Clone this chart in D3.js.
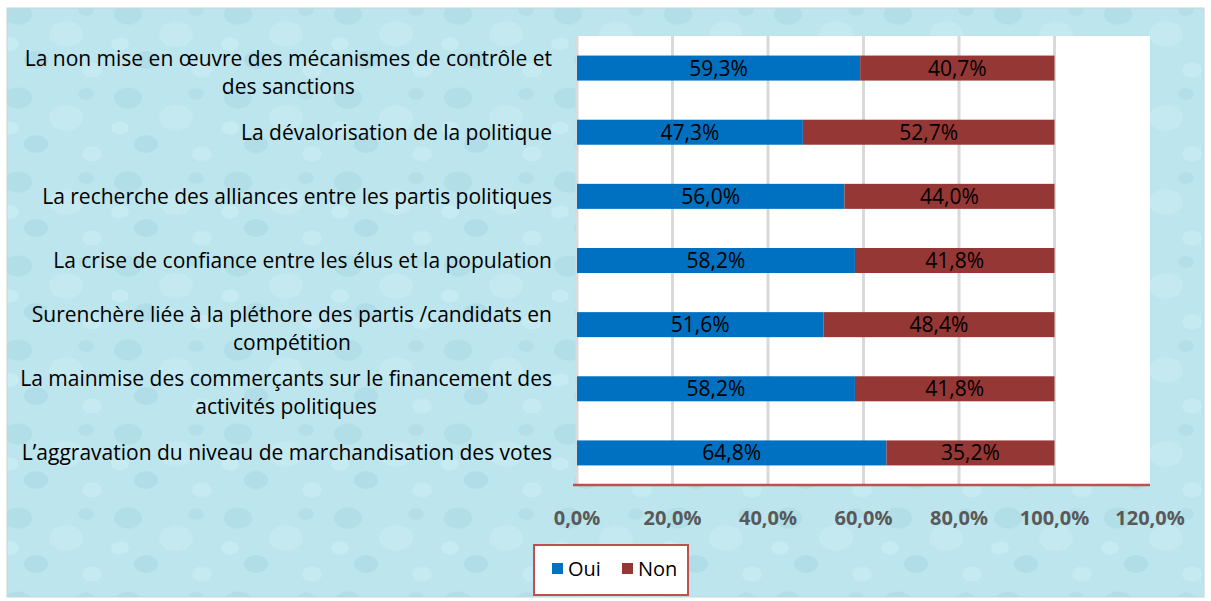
<!DOCTYPE html>
<html>
<head>
<meta charset="utf-8">
<script src="https://cdn.jsdelivr.net/npm/d3@7"></script>
<style>
  body { margin: 0; background: #fff; }
  svg { display: block; font-family: "Open Sans", Lato, sans-serif; }
</style>
</head>
<body>
<div id="graph"></div>
<script>
// categories, top to bottom
const categories = [
  "La non mise en œuvre des mécanismes de contrôle et|des sanctions",
  "La dévalorisation de la politique",
  "La recherche des alliances entre les partis politiques",
  "La crise de confiance entre les élus et la population",
  "Surenchère liée à la pléthore des partis /candidats en|compétition",
  "La mainmise des commerçants sur le financement des|activités politiques",
  "L’aggravation du niveau de marchandisation des votes"
]
const oui = [59.3, 47.3, 56.0, 58.2, 51.6, 58.2, 64.8]
const non = [40.7, 52.7, 44.0, 41.8, 48.4, 41.8, 35.2]
const xTicks = [0, 20, 40, 60, 80, 100, 120]
const seriesNames = ["Oui", "Non"]
const colors = ["#0070c0", "#953735"]

const W = 1211, H = 601
const plot = {left: 577, right: 1150, top: 36, bottom: 485}
const fmt = v => d3.format(".1f")(v).replace(".", ",") + "%"

const svg = d3.select("#graph").append("svg")
  .attr("width", W).attr("height", H)

// water drop texture (decorative)
const defs = svg.append("defs")
const pat = defs.append("pattern")
  .attr("id", "drops").attr("patternUnits", "userSpaceOnUse")
  .attr("width", 110).attr("height", 84)
pat.append("rect").attr("width", 110).attr("height", 84).attr("fill", "#bce5ed")
const blobs = [[18, 14, 14, "#aedce6"], [66, 34, 17, "#c8ecf2"], [36, 60, 12, "#acdbe5"],
               [92, 70, 10, "#c9edf3"], [86, 10, 8, "#b1dde7"], [10, 44, 9, "#cbeef4"]]
blobs.forEach(b => {
  pat.append("ellipse").attr("cx", b[0]).attr("cy", b[1])
    .attr("rx", b[2]).attr("ry", b[2] * 0.75).attr("fill", b[3]).attr("opacity", 0.7)
})

svg.append("rect")
  .attr("x", 7).attr("y", 8).attr("width", W - 14).attr("height", H - 12)
  .attr("fill", "url(#drops)")
  .attr("stroke", "#c8d4d8").attr("stroke-width", 1)

// scales
const x = d3.scaleLinear().domain([0, 120]).range([plot.left, plot.right])
const y = d3.scaleBand().domain(d3.range(categories.length))
  .range([plot.top, plot.bottom]).paddingInner(0.61).paddingOuter(0.305)

// plot area
svg.append("rect")
  .attr("x", plot.left).attr("y", plot.top)
  .attr("width", plot.right - plot.left).attr("height", plot.bottom - plot.top)
  .attr("fill", "#fff")

// gridlines
svg.append("g").selectAll("line")
  .data(xTicks.slice(0, -1))
  .join("line")
  .attr("x1", d => x(d)).attr("x2", d => x(d))
  .attr("y1", plot.top).attr("y2", plot.bottom)
  .attr("stroke", "#d9d9d9").attr("stroke-width", 3)

// bars
const rows = categories.map((c, i) => ({i, vals: [oui[i], non[i]]}))
const segs = []
rows.forEach(r => {
  let acc = 0
  r.vals.forEach((v, s) => { segs.push({i: r.i, s, x0: acc, x1: acc + v, v}); acc += v })
})

svg.append("g").selectAll("rect")
  .data(segs)
  .join("rect")
  .attr("x", d => x(d.x0)).attr("width", d => x(d.x1) - x(d.x0))
  .attr("y", d => y(d.i)).attr("height", y.bandwidth())
  .attr("fill", d => colors[d.s])

// data labels
svg.append("g").selectAll("text")
  .data(segs)
  .join("text")
  .attr("x", d => x((d.x0 + d.x1) / 2))
  .attr("y", d => y(d.i) + y.bandwidth() / 2)
  .attr("dy", "0.36em")
  .attr("text-anchor", "middle")
  .attr("font-size", 21)
  .attr("fill", "#000")
  .text(d => fmt(d.v))

// bottom axis line
svg.append("line")
  .attr("x1", plot.left - 4).attr("x2", plot.right)
  .attr("y1", plot.bottom).attr("y2", plot.bottom)
  .attr("stroke", "#c0504d").attr("stroke-width", 2.5)

// x tick labels
svg.append("g").selectAll("text")
  .data(xTicks)
  .join("text")
  .attr("x", d => x(d)).attr("y", 518)
  .attr("dy", "0.36em")
  .attr("text-anchor", "middle")
  .attr("font-size", 20).attr("font-weight", "bold")
  .attr("fill", "#595959")
  .text(d => fmt(d))

// category labels: block right aligned, lines centered inside
const labelRight = 552
categories.forEach((c, i) => {
  const lines = c.split("|")
  const g = svg.append("g")
  const cy = y(i) + y.bandwidth() / 2
  const texts = lines.map((l, k) => g.append("text")
    .attr("y", cy + (k - (lines.length - 1) / 2) * 28)
    .attr("dy", lines.length > 1 ? "0.55em" : "0.36em")
    .attr("font-size", 21)
    .attr("fill", "#000")
    .attr("text-anchor", "middle")
    .text(l))
  const maxW = d3.max(texts, t => t.node().getComputedTextLength())
  texts.forEach(t => t.attr("x", labelRight - maxW / 2))
})

// legend
const legend = svg.append("g").attr("transform", "translate(534,545)")
legend.append("rect")
  .attr("width", 154).attr("height", 50)
  .attr("fill", "#fff").attr("stroke", "#c0504d").attr("stroke-width", 2)
const items = legend.selectAll("g.item")
  .data(seriesNames)
  .join("g")
  .attr("transform", (d, i) => `translate(${18 + i * 70},18)`)
items.append("rect").attr("width", 11).attr("height", 11)
  .attr("fill", (d, i) => colors[i])
items.append("text").attr("x", 16).attr("y", 6).attr("dy", "0.36em")
  .attr("font-size", 20).attr("fill", "#000")
  .text(d => d)
</script>
</body>
</html>
